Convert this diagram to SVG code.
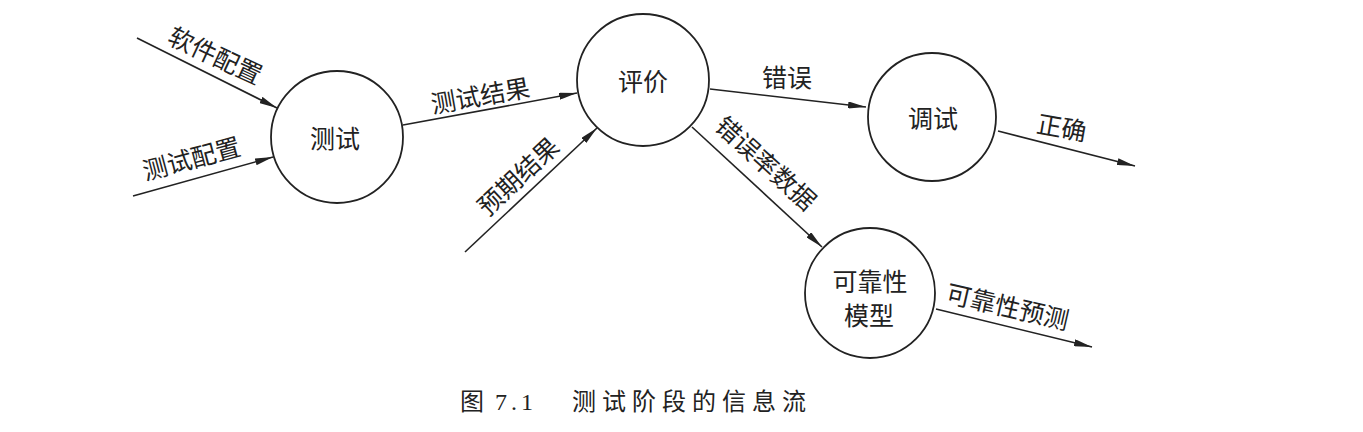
<svg xmlns="http://www.w3.org/2000/svg" width="1363" height="432" viewBox="0 0 1363 432">
<style>
  .node { fill: #fff; stroke: #222; stroke-width: 1.8; }
  .edge { fill: none; stroke: #222; stroke-width: 1.6; }
  .t { font-family: "Noto Sans CJK SC", "Liberation Sans", sans-serif; font-size: 25px; fill: #222; text-anchor: middle; dominant-baseline: central; }
  .cap { font-family: "Liberation Serif", "Noto Sans CJK SC", serif; font-size: 24px; fill: #222; dominant-baseline: central; }
</style>
<defs>
  <marker id="arr" viewBox="0 0 18 7" refX="18" refY="3.5" markerWidth="18" markerHeight="7" markerUnits="userSpaceOnUse" orient="auto">
    <path d="M0,0 L18,3.5 L0,7 Z" fill="#222"/>
  </marker>
</defs>
<rect width="1363" height="432" fill="#fff"/>
<g id="connectors">
  <line class="edge" x1="137" y1="38" x2="277" y2="108" marker-end="url(#arr)"/>
  <line class="edge" x1="133" y1="196" x2="273" y2="157" marker-end="url(#arr)"/>
  <line class="edge" x1="403" y1="125" x2="577" y2="93" marker-end="url(#arr)"/>
  <line class="edge" x1="465" y1="252" x2="597" y2="128" marker-end="url(#arr)"/>
  <line class="edge" x1="710" y1="89" x2="866" y2="107" marker-end="url(#arr)"/>
  <line class="edge" x1="692" y1="127" x2="822" y2="247" marker-end="url(#arr)"/>
  <line class="edge" x1="998" y1="131" x2="1135" y2="166" marker-end="url(#arr)"/>
  <line class="edge" x1="936" y1="309" x2="1092" y2="347" marker-end="url(#arr)"/>
  <text class="t" transform="translate(216,54) rotate(25)">软件配置</text>
  <text class="t" transform="translate(191,157) rotate(-15)">测试配置</text>
  <text class="t" transform="translate(480,94) rotate(-10)">测试结果</text>
  <text class="t" transform="translate(517,175) rotate(-43)">预期结果</text>
  <text class="t" x="787" y="76">错误</text>
  <text class="t" transform="translate(767,162) rotate(42)">错误率数据</text>
  <text class="t" transform="translate(1062,126) rotate(10)">正确</text>
  <text class="t" transform="translate(1008,305) rotate(13)">可靠性预测</text>
</g>
<g id="node-test">
  <circle class="node" cx="337" cy="137" r="66"/>
  <text class="t" x="335" y="137">测试</text>
</g>
<g id="node-eval">
  <circle class="node" cx="643" cy="80" r="66"/>
  <text class="t" x="643" y="80">评价</text>
</g>
<g id="node-debug">
  <circle class="node" cx="932" cy="117" r="64"/>
  <text class="t" x="933" y="117">调试</text>
</g>
<g id="node-model">
  <circle class="node" cx="870" cy="293" r="65"/>
  <text class="t" x="870" y="280">可靠性</text>
  <text class="t" x="869" y="314">模型</text>
</g>
<g id="caption">
  <text class="cap" x="460" y="402">图</text>
  <text class="cap" x="495" y="402" style="letter-spacing:4px">7.1</text>
  <text class="cap" x="572" y="402" style="letter-spacing:6px">测试阶段的信息流</text>
</g>
</svg>
